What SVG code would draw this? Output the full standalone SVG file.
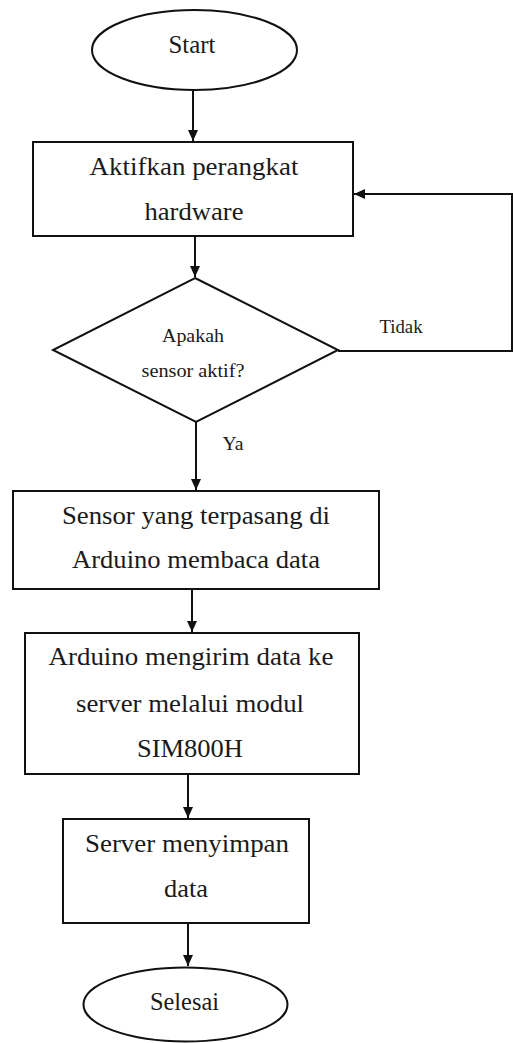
<svg xmlns="http://www.w3.org/2000/svg" width="513" height="1043" viewBox="0 0 513 1043">
<style>
  .shape{fill:#fff;stroke:#111;stroke-width:2}
  .conn{fill:none;stroke:#111;stroke-width:2}
  .t{font-family:'Liberation Serif','DejaVu Serif','Times New Roman',serif;font-size:26px;fill:#1a1a1a;text-anchor:middle}
  .s{font-family:'Liberation Serif','DejaVu Serif','Times New Roman',serif;font-size:18px;fill:#1a1a1a;text-anchor:middle}
</style>
<defs>
  <marker id="arr" markerUnits="userSpaceOnUse" markerWidth="12" markerHeight="12" refX="11" refY="5" orient="auto">
    <path d="M0,0 L11,5 L0,10 Z" fill="#111"/>
  </marker>
</defs>
<rect width="513" height="1043" fill="#fff"/>
<g id="connectors">
  <line class="conn" x1="193" y1="90" x2="193" y2="141" marker-end="url(#arr)"/>
  <line class="conn" x1="195" y1="236" x2="195" y2="277" marker-end="url(#arr)"/>
  <line class="conn" x1="196" y1="422" x2="196" y2="490" marker-end="url(#arr)"/>
  <line class="conn" x1="192" y1="589" x2="192" y2="632" marker-end="url(#arr)"/>
  <line class="conn" x1="188" y1="774" x2="188" y2="818" marker-end="url(#arr)"/>
  <line class="conn" x1="188" y1="923" x2="188" y2="966" marker-end="url(#arr)"/>
  <polyline class="conn" points="338,351 512,351 512,194 354,194" marker-end="url(#arr)"/>
  <text class="s" x="401" y="333" textLength="43" lengthAdjust="spacingAndGlyphs">Tidak</text>
  <text class="s" x="233" y="450" textLength="21" lengthAdjust="spacingAndGlyphs">Ya</text>
</g>
<g id="start">
  <ellipse class="shape" cx="194.5" cy="50" rx="102.5" ry="40"/>
  <text class="t" x="192" y="53" textLength="47" lengthAdjust="spacingAndGlyphs">Start</text>
</g>
<g id="aktifkan">
  <rect class="shape" x="33" y="142" width="320" height="94"/>
  <text class="t" x="194" y="175" textLength="209" lengthAdjust="spacingAndGlyphs">Aktifkan perangkat</text>
  <text class="t" x="194" y="220" textLength="99" lengthAdjust="spacingAndGlyphs">hardware</text>
</g>
<g id="decision">
  <polygon class="shape" points="195,278 338,350 196,422 53,350"/>
  <text class="s" x="193" y="342" textLength="62" lengthAdjust="spacingAndGlyphs">Apakah</text>
  <text class="s" x="193" y="377" textLength="103" lengthAdjust="spacingAndGlyphs">sensor aktif?</text>
</g>
<g id="sensor">
  <rect class="shape" x="13" y="491" width="366" height="98"/>
  <text class="t" x="196" y="524" textLength="268" lengthAdjust="spacingAndGlyphs">Sensor yang terpasang di</text>
  <text class="t" x="196" y="568" textLength="248" lengthAdjust="spacingAndGlyphs">Arduino membaca data</text>
</g>
<g id="kirim">
  <rect class="shape" x="25" y="633" width="334" height="141"/>
  <text class="t" x="191" y="665" textLength="285" lengthAdjust="spacingAndGlyphs">Arduino mengirim data ke</text>
  <text class="t" x="190" y="712" textLength="228" lengthAdjust="spacingAndGlyphs">server melalui modul</text>
  <text class="t" x="190" y="757" textLength="106" lengthAdjust="spacingAndGlyphs">SIM800H</text>
</g>
<g id="simpan">
  <rect class="shape" x="63" y="819" width="246" height="104"/>
  <text class="t" x="187" y="852" textLength="204" lengthAdjust="spacingAndGlyphs">Server menyimpan</text>
  <text class="t" x="186" y="897" textLength="44" lengthAdjust="spacingAndGlyphs">data</text>
</g>
<g id="selesai">
  <ellipse class="shape" cx="185.5" cy="1004.5" rx="102" ry="37"/>
  <text class="t" x="184.5" y="1010" textLength="69" lengthAdjust="spacingAndGlyphs">Selesai</text>
</g>
</svg>
